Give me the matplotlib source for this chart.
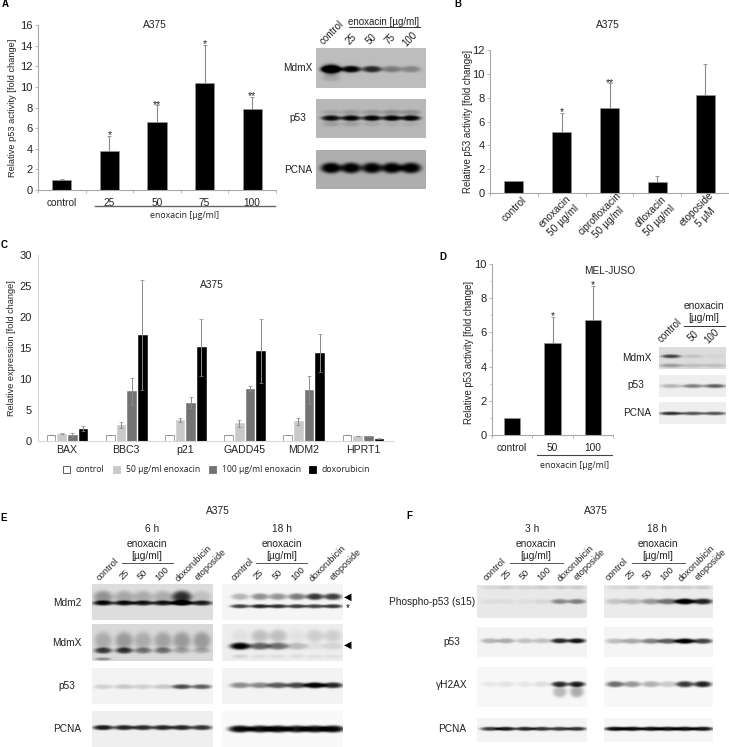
import numpy as np
import matplotlib
matplotlib.use('Agg')
import matplotlib.pyplot as plt

plt.rcParams['font.family'] = ['Liberation Sans', 'DejaVu Sans']

W, H = 729, 747

# panel A
a_labels = ['control', '25', '50', '75', '100']
a_values = [1.0, 3.8, 6.6, 10.35, 7.85]
a_err = [0.1, 1.45, 1.6, 3.7, 1.2]
a_stars = ['', '*', '**', '*', '**']

# panel B
b_labels = ['control', 'enoxacin\n50 µg/ml', 'ciprofloxacin\n50 µg/ml', 'ofloxacin\n50 µg/ml', 'etoposide\n5 µM']
b_values = [1.0, 5.15, 7.1, 0.9, 8.25]
b_err = [0.0, 1.6, 2.1, 0.5, 2.55]
b_stars = ['', '*', '**', '', '']

# panel C
genes = ['BAX', 'BBC3', 'p21', 'GADD45', 'MDM2', 'HPRT1']
c_names = ['control', '50 µg/ml enoxacin', '100 µg/ml enoxacin', 'doxorubicin']
c_colors = ['white', '#c9c9c9', '#737373', 'black']
c_control = [1, 1, 1, 1, 1, 1]
c_50 = [1.2, 2.6, 3.4, 2.85, 3.2, 0.85]
c_100 = [1.0, 8.0, 6.2, 8.45, 8.2, 0.75]
c_dox = [1.95, 17.1, 15.1, 14.5, 14.2, 0.4]
c_control_err = [0, 0, 0, 0, 0, 0]
c_50_err = [0.15, 0.45, 0.35, 0.55, 0.55, 0.03]
c_100_err = [0.3, 2.2, 0.9, 0.4, 2.3, 0.1]
c_dox_err = [0.4, 8.9, 4.6, 5.2, 3.0, 0.05]

# panel D
d_labels = ['control', '50', '100']
d_values = [1.0, 5.4, 6.75]
d_err = [0.0, 1.5, 1.95]
d_stars = ['', '*', '*']

# blot band strengths per lane
a_mdmx = [0.8, 0.72, 0.6, 0.26, 0.22]
a_mdmx_big = [0.55, 0.05, 0, 0, 0]
a_p53 = [0.68, 0.72, 0.72, 0.72, 0.72]
a_pcna = [0.72, 0.7, 0.68, 0.7, 0.7]

d_mdmx = [0.6, 0.1, 0.03]
d_mdmx_low = [0.25, 0.12, 0.12]
d_p53 = [0.22, 0.42, 0.55]
d_pcna = [0.75, 0.6, 0.6]

e6_mdm2 = [0.75, 0.75, 0.72, 0.72, 0.95, 0.72]
e6_mdm2_up = [0.3, 0.22, 0.2, 0.2, 0.7, 0.12]
e6_mdmx = [0.6, 0.62, 0.38, 0.38, 0.18, 0.16]
e6_mdmx_up = [0.18, 0.25, 0.18, 0.22, 0.25, 0.25]
e6_p53 = [0.13, 0.17, 0.14, 0.17, 0.65, 0.58]
e6_pcna = [0.85, 0.8, 0.78, 0.8, 0.8, 0.75]

e18_mdm2 = [0.25, 0.4, 0.38, 0.48, 0.75, 0.72]
e18_mdm2_low = [0.7, 0.82, 0.78, 0.72, 0.68, 0.75]
e18_mdmx = [0.95, 0.55, 0.5, 0.2, 0.05, 0.1]
e18_mdmx_up = [0.05, 0.18, 0.18, 0.04, 0.12, 0.12]
e18_p53 = [0.4, 0.42, 0.6, 0.68, 0.98, 0.8]
e18_pcna = [0.95, 0.92, 0.95, 0.9, 0.92, 0.95]

f3_phos = [0.05, 0.05, 0.04, 0.07, 0.38, 0.42]
f3_p53 = [0.25, 0.28, 0.2, 0.2, 0.8, 0.88]
f3_h2ax = [0.06, 0.08, 0.07, 0.1, 0.8, 0.85]
f3_h2ax_low = [0, 0, 0, 0, 0.25, 0.3]
f3_pcna = [0.72, 0.85, 0.8, 0.75, 0.72, 0.75]

f18_phos = [0.15, 0.2, 0.32, 0.48, 1.0, 0.8]
f18_p53 = [0.22, 0.3, 0.45, 0.6, 1.0, 0.7]
f18_h2ax = [0.55, 0.38, 0.28, 0.18, 0.75, 0.85]
f18_pcna = [0.92, 0.92, 0.9, 0.88, 0.9, 0.88]

GREY = '#a8a8a8'
TXT = '#222222'
ERR = '#8a8a8a'
OPEN = ['Open Sans', 'DejaVu Sans']

fig = plt.figure(figsize=(W / 100, H / 100), dpi=100)


def ax_px(left, top, right, bottom):
    ax = fig.add_axes([left / W, 1 - bottom / H, (right - left) / W, (bottom - top) / H])
    ax.patch.set_alpha(0)
    for s in ['top', 'right']:
        ax.spines[s].set_visible(False)
    for s in ['left', 'bottom']:
        ax.spines[s].set_color(GREY)
        ax.spines[s].set_linewidth(0.8)
    return ax


def bar_panel(box, labels, values, err, stars, ymax, ystep, bar_w, tick_names=True):
    ax = ax_px(*box)
    n = len(values)
    x = np.arange(n) + 0.5
    ax.bar(x, values, bar_w, color='black', edgecolor='#999999', linewidth=0.4)
    ax.errorbar(x, values, yerr=[np.zeros(n), err], fmt='none', ecolor=ERR, elinewidth=0.8, capsize=1.2, capthick=0.6)
    for xi, v, e, s in zip(x, values, err, stars):
        if s:
            ax.text(xi, v + e + ymax * 0.005, s, ha='center', va='center', fontsize=7.5, color=TXT)
    ax.set_xlim(0, n)
    ax.set_ylim(0, ymax)
    ax.set_yticks(np.arange(0, ymax + 0.1, ystep))
    ax.set_xticks(np.arange(n + 1))
    ax.tick_params(axis='both', which='major', length=2, width=0.6, color=GREY, labelsize=8, labelcolor=TXT, pad=2)
    ax.set_xticklabels([])
    if tick_names:
        ax.set_xticks(x, labels, minor=True)
        ax.tick_params(axis='x', which='minor', length=0, labelsize=7.3, labelcolor=TXT, pad=6)
    return ax


bar_panel((38, 25, 276, 190), a_labels, a_values, a_err, a_stars, 16, 2, 0.4)
bar_panel((490, 50, 729, 193), b_labels, b_values, b_err, b_stars, 12, 2, 0.4, tick_names=False)
ax_d = bar_panel((492, 264, 613, 435), d_labels, d_values, d_err, d_stars, 10, 2, 0.41)
ax_d.set_yticks(np.arange(0, 10, 1), minor=True)
ax_d.tick_params(axis='y', which='minor', length=1.5, width=0.5, color=GREY)

# panel C
ax_c = ax_px(37.5, 255, 392.5, 441)
c_series = [c_control, c_50, c_100, c_dox]
c_errs = [c_control_err, c_50_err, c_100_err, c_dox_err]
xg = np.arange(len(genes)) + 0.5
for i in range(4):
    xb = xg + (i - 1.5) * 0.18
    ax_c.bar(xb, c_series[i], 0.145, color=c_colors[i], edgecolor='#555555' if i == 0 else c_colors[i], linewidth=0.4)
    ax_c.errorbar(xb, c_series[i], yerr=c_errs[i], fmt='none', ecolor=ERR, elinewidth=0.7, capsize=1.2, capthick=0.5)
ax_c.set_xlim(0, len(genes))
ax_c.set_ylim(0, 30)
ax_c.set_yticks(range(0, 31, 5))
ax_c.spines['left'].set_color('#d8d8d8')
ax_c.spines['bottom'].set_color('#d8d8d8')
ax_c.set_xticks(xg, genes)
ax_c.tick_params(axis='y', length=0, labelsize=8, labelcolor=TXT, pad=4)
ax_c.tick_params(axis='x', length=0, labelsize=7.6, labelcolor=TXT, pad=3)

# everything else in picture pixels
ov = fig.add_axes([0, 0, 1, 1], zorder=5)
ov.axis('off')
ov.autoscale(False)
ov.set_xlim(0, W)
ov.set_ylim(H, 0)


def txt(x, y, s, size=7.3, rot=0, **kw):
    kw.setdefault('color', TXT)
    ov.text(x, y, s, fontsize=size, rotation=rot, ha='center', va='center', rotation_mode='anchor', **kw)


def blot(x0, x1, y0, y1, lanes, bands, bg):
    # bands: (strength per lane, height position 0-1, half thickness px, half width px)
    w, h = int(x1 - x0), int(y1 - y0)
    xx, yy = np.meshgrid(np.linspace(x0, x1, w * 2), np.linspace(0, 1, h * 2))
    img = np.full(xx.shape, float(bg))
    for strength, yc, thick, half in bands:
        for lane, s in zip(lanes, strength):
            dy = (yy - yc) * (y1 - y0) / (thick * 1.3)
            dx = (xx - lane) / half
            img -= s * np.exp(-(dx ** 2 + dy ** 2) ** 2)
    ov.imshow(np.clip(img, 0, 1), cmap='gray', vmin=0, vmax=1, extent=(x0, x1, y1, y0), aspect='auto', interpolation='bilinear')


# blots A
la = [331, 351, 372, 392, 411]
blot(316, 426, 48, 88, la, [(a_mdmx, 0.53, 2.6, 10), (a_mdmx_big, 0.53, 4.2, 10), ([0.1, 0, 0, 0, 0], 0.74, 3, 9)], 0.74)
blot(316, 426, 99, 138, la, [(a_p53, 0.49, 2.2, 10), ([0.08, 0.12, 0.12, 0.16, 0.16], 0.34, 2.2, 10), ([0.1, 0.1, 0.07, 0.05, 0.05], 0.64, 2.2, 9)], 0.72)
blot(316, 426, 150, 189, la, [(a_pcna, 0.46, 4.2, 10.5)], 0.68)

# blots D
ld = [671, 693, 715]
blot(659, 726, 347, 369, ld, [(d_mdmx, 0.42, 1.5, 10), (d_mdmx_low, 0.85, 1.5, 12)], 0.86)
blot(659, 726, 375, 397, ld, [(d_p53, 0.5, 1.6, 11)], 0.93)
blot(659, 726, 402, 424, ld, [(d_pcna, 0.52, 1.4, 12)], 0.93)

# blots E
le1 = [103, 124, 143, 163, 182, 202]
le2 = [240, 260, 278, 297, 315, 333]
blot(92, 213, 584, 620, le1, [(e6_mdm2, 0.53, 2.0, 11), (e6_mdm2_up, 0.36, 5, 10)], 0.87)
blot(222, 343, 584, 620, le2, [(e18_mdm2, 0.35, 2.6, 9), (e18_mdm2_low, 0.62, 1.6, 10)], 0.96)
blot(92, 213, 624, 661, le1, [(e6_mdmx, 0.72, 2.4, 9), (e6_mdmx_up, 0.45, 7, 9), ([0.3, 0, 0, 0, 0, 0], 0.95, 1.2, 8)], 0.85)
blot(222, 343, 624, 661, le2, [(e18_mdmx, 0.6, 2.8, 10.5), (e18_mdmx_up, 0.32, 5, 9), ([0.1, 0.06, 0.06, 0.06, 0.05, 0.05], 0.88, 1.5, 8)], 0.93)
blot(92, 213, 668, 704, le1, [(e6_p53, 0.52, 1.9, 10)], 0.95)
blot(222, 343, 668, 704, le2, [(e18_p53, 0.48, 2.3, 10.5)], 0.95)
blot(92, 213, 711, 747, le1, [(e6_pcna, 0.46, 2.0, 10.5)], 0.94)
blot(222, 343, 711, 747, le2, [(e18_pcna, 0.5, 2.8, 12)], 0.98)
ov.text(348, 597, '◀', fontsize=7, ha='center', va='center', color='black')
txt(348, 608, '*', size=7, color='black')
ov.text(348, 645, '◀', fontsize=7, ha='center', va='center', color='black')

# blots F
lf1 = [490, 506, 525, 542, 560, 577]
lf2 = [615, 632, 651, 668, 685, 703]
top_line = [0.07, 0.12, 0.09, 0.12, 0.12, 0.12]
blot(477, 587, 585, 618, lf1, [(f3_phos, 0.5, 2.0, 9), (top_line, 0.07, 1.4, 9)], 0.91)
blot(604, 713, 585, 618, lf2, [(f18_phos, 0.5, 2.3, 10), (top_line, 0.07, 1.4, 9)], 0.92)
blot(477, 587, 627, 657, lf1, [(f3_p53, 0.46, 2.0, 9)], 0.95)
blot(604, 713, 627, 657, lf2, [(f18_p53, 0.47, 2.1, 10)], 0.96)
blot(477, 587, 667, 707, lf1, [(f3_h2ax, 0.43, 2.2, 8.5), (f3_h2ax_low, 0.62, 4.5, 7)], 0.97)
blot(604, 713, 667, 707, lf2, [(f18_h2ax, 0.43, 2.4, 9)], 0.97)
blot(477, 587, 718, 742, lf1, [(f3_pcna, 0.45, 1.6, 10)], 0.95)
blot(604, 713, 718, 742, lf2, [(f18_pcna, 0.45, 1.7, 11)], 0.96)

# panel letters
for x, y, s in [(5, 4, 'A'), (458, 4, 'B'), (4, 245, 'C'), (443, 257, 'D'), (4, 518, 'E'), (409, 516, 'F')]:
    ov.text(x, y, s, fontsize=7, fontweight='bold', ha='center', va='center', color='black')

# y labels and titles
txt(13, 108, 'Relative p53 activity [fold change]', size=6.7, rot=90)
txt(468, 121, 'Relative p53 activity [fold change]', size=6.9, rot=90)
txt(12, 348, 'Relative expression [fold change]', size=6.6, rot=90)
txt(469, 352, 'Relative p53 activity [fold change]', size=6.9, rot=90)
txt(155, 25, 'A375')
txt(608, 25, 'A375')
txt(212, 285, 'A375')
txt(610, 271, 'MEL-JUSO')
txt(218, 511, 'A375')
txt(596, 511, 'A375')

# panel A extras
ov.plot([95, 275], [206, 206], color='#666666', lw=1)
txt(185, 215, 'enoxacin [µg/ml]', size=6.3, family=OPEN)
txt(384, 22, 'enoxacin [µg/ml]', size=7)
ov.plot([349, 420], [27, 27], color='#333333', lw=0.7)
for x, y, s in zip([332, 351, 371, 390, 410], [33, 39, 39, 39, 39], a_labels):
    txt(x, y, s, size=7, rot=45)
for y, s in zip([68, 118, 170], ['MdmX', 'p53', 'PCNA']):
    txt(298, y, s)

# panel B tick labels
for x, y, s in zip([514, 559, 604, 655, 701], [209, 216, 218, 216, 213], b_labels):
    txt(x, y, s, rot=45, multialignment='center', linespacing=1.3)

# panel C legend
for x, c, name, tx in zip([67, 117, 213, 313], c_colors, c_names, [76, 126, 222, 322]):
    ov.add_patch(plt.Rectangle((x - 3.5, 466), 7, 7, facecolor=c, edgecolor='#444444' if c == 'white' else c, linewidth=0.6))
    ov.text(tx, 470, name, fontsize=6.2, ha='left', va='center', color=TXT, family=OPEN)

# panel D extras
ov.plot([537, 612], [455, 455], color='#444444', lw=0.8)
txt(575, 465, 'enoxacin [µg/ml]', size=6.3, family=OPEN)
txt(704, 306, 'enoxacin')
txt(704, 318, '[µg/ml]')
ov.plot([684, 725], [326, 326], color='#333333', lw=0.7)
for x, y, s in zip([670, 693, 712], [331, 336, 336], d_labels):
    txt(x, y, s, size=7, rot=45)
for x, y, s in zip([637, 636, 637], [358, 385, 413], ['MdmX', 'p53', 'PCNA']):
    txt(x, y, s)

# panels E, F headers
lane_names = ['control', '25', '50', '100', 'doxorubicin', 'etoposide']
for cx, s, xl, xr, hx, hy in [(147, '6 h', 122, 173, 152, 529), (282, '18 h', 256, 307, 282, 529), (536, '3 h', 510, 563, 532, 529), (658, '18 h', 632, 685, 657, 529)]:
    txt(hx, hy, s)
    txt(cx, 544, 'enoxacin')
    txt(cx, 556, '[µg/ml]')
    ov.plot([xl, xr], [563, 563], color='#555555', lw=0.7)

lane_y = [569, 575, 575, 574, 563, 565]
for xs in [[108, 124, 143, 162, 194, 211], [243, 258, 278, 298, 328, 346], [495, 506, 525, 544, 576, 590], [617, 630, 648, 667, 697, 711]]:
    for x, y, s in zip(xs, lane_y, lane_names):
        txt(x, y, s, size=6.7, rot=45)

for y, s in zip([603, 643, 686, 729], ['Mdm2', 'MdmX', 'p53', 'PCNA']):
    txt(67, y, s)
txt(432, 602, 'Phospho-p53 (s15)')
for y, s in zip([642, 685, 729], ['p53', 'γH2AX', 'PCNA']):
    txt(452, y, s)

fig.savefig('out.png', dpi=100)
